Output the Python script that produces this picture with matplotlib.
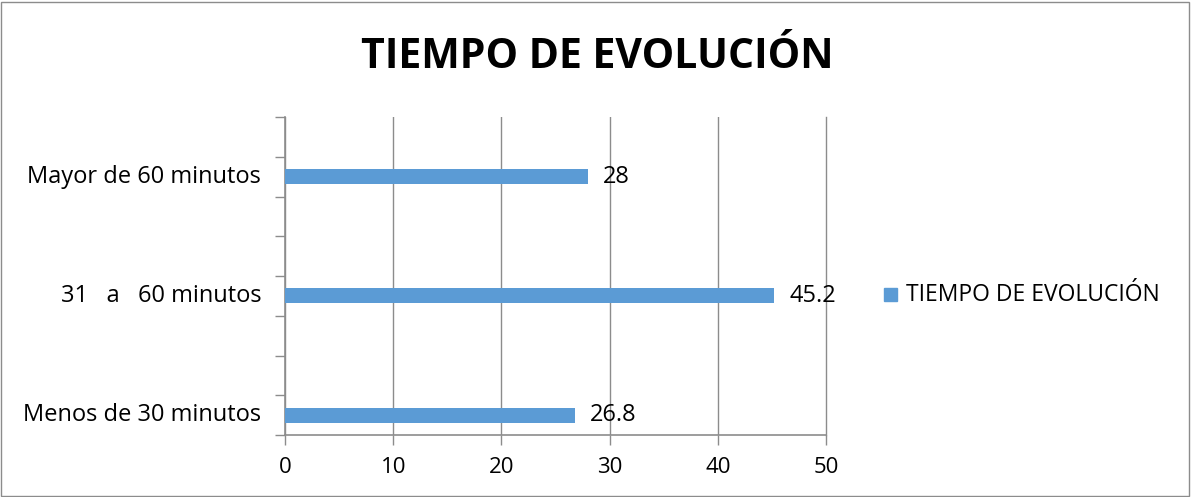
import matplotlib
matplotlib.use("Agg")
import matplotlib.pyplot as plt
from matplotlib.patches import Rectangle

categories = ["Menos de 30 minutos", "", "", "31   a   60 minutos", "", "", "Mayor de 60 minutos", ""]
values = [26.8, None, None, 45.2, None, None, 28, None]
series_name = "TIEMPO DE EVOLUCIÓN"
xticks = [0, 10, 20, 30, 40, 50]

plt.rcParams['font.family'] = ['Open Sans', 'DejaVu Sans']
W, H = 1191, 497
fig = plt.figure(figsize=(W/100, H/100), dpi=100)
ax = fig.add_axes([285/W, 1-435/H, (826-285)/W, (435-117)/H])

bar_color = "#5B9BD5"
grid_c = "#8C8C8C"
pos = list(range(len(categories)))
for p, v in zip(pos, values):
    if v is not None:
        ax.barh(p + 0.5, v, height=0.38, color=bar_color, zorder=3)
        ax.text(v + 1.4, p + 0.5, f"{v:g}", va="center", ha="left", fontsize=17, color="black")

ax.set_xlim(0, 50)
ax.set_ylim(0, len(categories))
ax.set_xticks(xticks)
ax.set_xticklabels([str(t) for t in xticks], fontsize=16)
ax.set_yticks([p for p in range(len(categories) + 1)])
ax.set_yticklabels([])
for p, c in zip(pos, categories):
    if c:
        ax.text(-2.2, p + 0.5, c, ha="right", va="center", fontsize=17, color="black")
ax.xaxis.grid(True, color=grid_c, linewidth=1, zorder=0)
for s in ["top", "right"]:
    ax.spines[s].set_visible(False)
for s in ["left", "bottom"]:
    ax.spines[s].set_color(grid_c)
    ax.spines[s].set_linewidth(1.2)
ax.tick_params(axis="x", colors=grid_c, length=7, width=1, labelcolor="black", pad=9)
ax.tick_params(axis="y", colors=grid_c, length=7, width=1)
ax.get_xgridlines()[-1].set_clip_on(False)

fig.text(597/W, 1-57/H, series_name, ha="center", va="center", fontsize=29.5, fontweight="bold")

# legend
fig.patches.append(Rectangle((884/W, 1-301/H), 13/W, 13/H, transform=fig.transFigure, color=bar_color))
fig.text(906/W, 1-295/H, series_name, ha="left", va="center", fontsize=16.5)

# border
fig.patches.append(Rectangle((1/W, 1/H), (W-3)/W, (H-3)/H, transform=fig.transFigure,
                             fill=False, edgecolor="#8C8C8C", linewidth=1))

fig.savefig("out.png", dpi=100)
